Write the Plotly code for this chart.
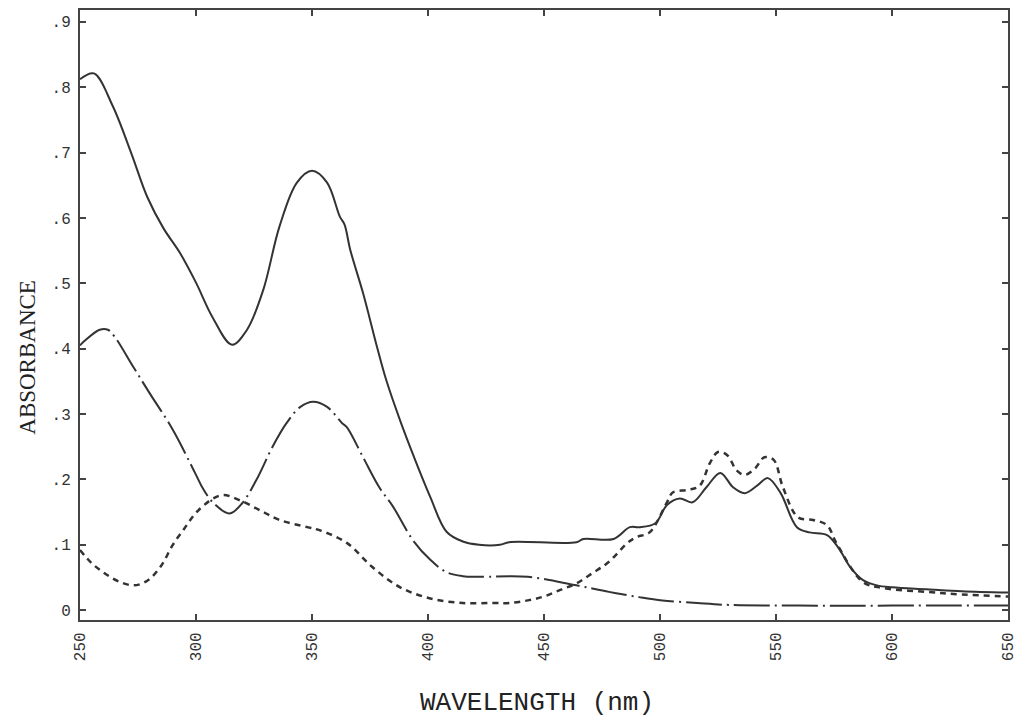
import plotly.graph_objects as go

# ---- data ----
wl_total = [250, 256, 264, 272, 279, 286, 293, 300, 307, 315.5, 322, 329, 336, 343.5, 350,
            356.5, 362, 364, 366.5, 372, 378, 382, 388, 394, 401, 408, 415, 422, 431, 435,
            464, 467, 480, 487, 491, 498, 503, 508.5, 514, 520, 526, 531.5, 536.5, 542,
            546.5, 552, 559, 564.5, 572, 577, 582, 587.5, 593.5, 600, 615, 630, 650]
abs_total = [0.812, 0.821, 0.772, 0.700, 0.632, 0.584, 0.547, 0.501, 0.449, 0.406, 0.429,
             0.490, 0.587, 0.654, 0.672, 0.654, 0.602, 0.590, 0.551, 0.485, 0.403, 0.352,
             0.290, 0.234, 0.173, 0.120, 0.105, 0.100, 0.100, 0.104, 0.104, 0.109, 0.109,
             0.127, 0.127, 0.133, 0.161, 0.171, 0.165, 0.188, 0.210, 0.188, 0.179, 0.191,
             0.202, 0.179, 0.127, 0.119, 0.115, 0.095, 0.066, 0.046, 0.038, 0.035, 0.032,
             0.029, 0.027]

wl_dashdot = [250, 252, 258.5, 262, 265, 273, 280, 290, 300, 303, 307.5, 314.5, 320, 326, 333,
              339, 345, 350.5, 356.5, 363, 365, 372, 379, 385, 393.5, 401, 408, 415, 422,
              443, 464, 478, 491, 501, 516, 530, 560, 600, 650]
abs_dashdot = [0.405, 0.412, 0.429, 0.429, 0.418, 0.372, 0.332, 0.276, 0.207, 0.186, 0.164,
               0.148, 0.164, 0.199, 0.250, 0.286, 0.311, 0.319, 0.311, 0.286, 0.280, 0.234,
               0.188, 0.158, 0.107, 0.077, 0.058, 0.052, 0.051, 0.051, 0.038, 0.028, 0.020,
               0.015, 0.011, 0.008, 0.007, 0.007, 0.007]

wl_dotted = [250, 255, 260, 266, 273, 279, 285, 290, 295, 300, 307.5, 312, 319, 327.5, 336,
             348, 353.5, 365, 376, 388, 401, 415, 428, 435, 443, 450, 457, 464, 471, 478,
             486, 490, 495.5, 503, 505.5, 512, 517, 521.5, 525, 529, 533, 536.5, 541, 545,
             549, 553, 559.5, 566, 572, 576, 587.5, 596, 615, 630, 650]
abs_dotted = [0.092, 0.072, 0.058, 0.045, 0.038, 0.045, 0.068, 0.100, 0.125, 0.149, 0.171,
              0.176, 0.168, 0.153, 0.138, 0.127, 0.122, 0.103, 0.066, 0.035, 0.018, 0.011,
              0.011, 0.011, 0.015, 0.021, 0.031, 0.041, 0.057, 0.074, 0.103, 0.112, 0.119,
              0.165, 0.180, 0.184, 0.190, 0.225, 0.242, 0.237, 0.214, 0.207, 0.217, 0.234,
              0.230, 0.188, 0.142, 0.138, 0.130, 0.103, 0.043, 0.034, 0.028, 0.024, 0.021]

x_ticks = [250, 300, 350, 400, 450, 500, 550, 600, 650]
x_ticktext = ["250", "300", "350", "400", "450", "500", "550", "600", "650"]
y_ticks = [0, 0.1, 0.2, 0.3, 0.4, 0.5, 0.6, 0.7, 0.8, 0.9]
y_ticktext = ["0", ".1", ".2", ".3", ".4", ".5", ".6", ".7", ".8", ".9"]

ink = "#333333"
mono = "Liberation Mono, Courier New, monospace"

fig = go.Figure()
fig.add_trace(go.Scatter(x=wl_total, y=abs_total, mode="lines",
                         line=dict(color=ink, width=2, shape="spline", smoothing=1.0)))
fig.add_trace(go.Scatter(x=wl_dashdot, y=abs_dashdot, mode="lines",
                         line=dict(color=ink, width=2, shape="spline", smoothing=1.0,
                                   dash="36px,5px,2px,5px")))
fig.add_trace(go.Scatter(x=wl_dotted, y=abs_dotted, mode="lines",
                         line=dict(color=ink, width=2.5, shape="spline", smoothing=1.0,
                                   dash="6px,5px")))

axis_common = dict(showline=True, linecolor="#444444", linewidth=2, mirror="ticks",
                   ticks="inside", ticklen=6, tickwidth=2, tickcolor="#444444",
                   showgrid=False, zeroline=False, automargin=False,
                   tickfont=dict(family=mono, size=16, color=ink))

fig.update_xaxes(range=[250, 650], tickvals=x_ticks, ticktext=x_ticktext,
                 tickangle=-90, ticklabelstandoff=4, **axis_common)
fig.update_yaxes(range=[-0.015, 0.918], tickvals=y_ticks, ticktext=y_ticktext,
                 ticklabelstandoff=4, **axis_common)

fig.update_layout(
    width=1020, height=719,
    margin=dict(l=80, r=12, t=10, b=99),
    paper_bgcolor="white", plot_bgcolor="white",
    showlegend=False,
    annotations=[
        dict(text="WAVELENGTH (nm)", xref="paper", yref="paper", x=0.4925, y=-0.136,
             xanchor="center", yanchor="middle", showarrow=False,
             font=dict(family=mono, size=26, color="#222222")),
        dict(text="ABSORBANCE", xref="paper", yref="paper", x=-0.056, y=0.43,
             xanchor="center", yanchor="middle", showarrow=False, textangle=-90,
             font=dict(family="Liberation Serif, Times New Roman, serif", size=23,
                       color="#222222")),
    ],
)

fig.write_html("out.html")
